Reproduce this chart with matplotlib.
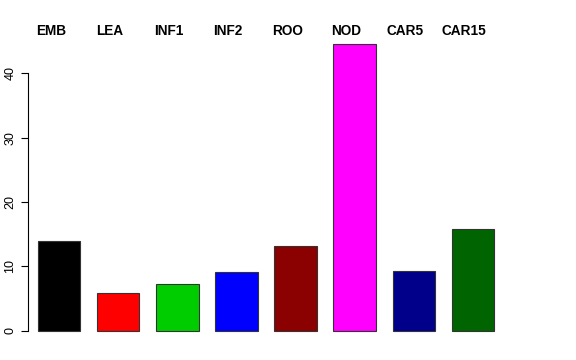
import matplotlib
matplotlib.use("Agg")
import matplotlib.pyplot as plt

categories = ["EMB", "LEA", "INF1", "INF2", "ROO", "NOD", "CAR5", "CAR15"]
values = [13.9, 5.8, 7.2, 9.1, 13.2, 44.5, 9.2, 15.8]
colors = ["#000000", "#FF0000", "#00CD00", "#0000FF", "#8B0000", "#FF00FF", "#00008B", "#006400"]
yticks = [0, 10, 20, 30, 40]

plt.rcParams['font.family'] = ['Liberation Sans', 'DejaVu Sans']

W, H = 576, 360
fig = plt.figure(figsize=(W / 100, H / 100), dpi=100)
# plot region in pixels: x 20..512, y 33..342
ax = fig.add_axes([20 / W, (H - 342) / H, (512 - 20) / W, (342 - 33) / H])

width = 1.0
space = 0.4
pitch = width + space
xs = [space + i * pitch + width / 2 for i in range(len(values))]
ax.bar(xs, values, width=width, color=colors, edgecolor="#333333", linewidth=0.8)

x_lo = space
x_hi = len(values) * pitch
ext = 0.04 * (x_hi - x_lo)
ax.set_xlim(x_lo - ext, x_hi + ext)
ymax = max(values)
ax.set_ylim(-0.04 * ymax, ymax * 1.04)

for s in ["top", "right", "bottom"]:
    ax.spines[s].set_visible(False)
ax.spines["left"].set_bounds(0, 40)
ax.spines["left"].set_position(("axes", 8 / 492))
ax.spines["left"].set_linewidth(0.8)
ax.set_xticks([])
ax.set_yticks(yticks)
ax.set_yticklabels([str(t) for t in yticks], rotation=90, va="center", fontsize=9)
ax.tick_params(axis="y", length=5, width=0.8, pad=3.5)

for x, lab in zip(xs, categories):
    ax.text(x - 0.2, 1.0 + 2 / 309, lab, transform=ax.get_xaxis_transform(),
            ha="center", va="center", fontsize=9.8, fontweight="bold")

fig.savefig("out.png", dpi=100)
